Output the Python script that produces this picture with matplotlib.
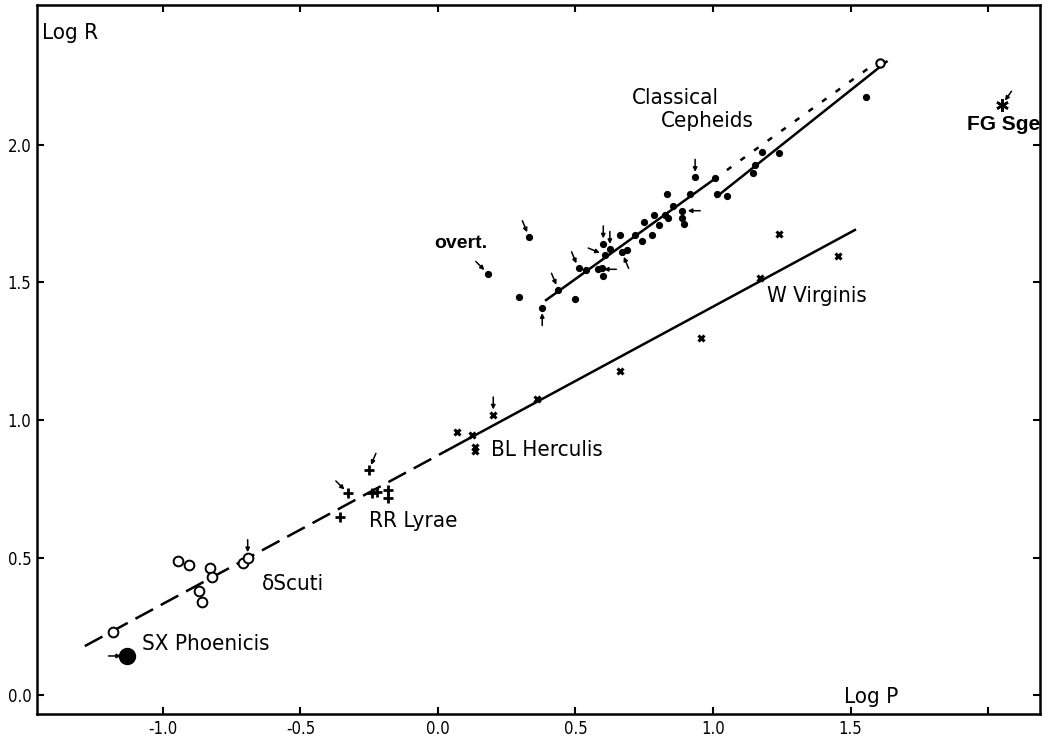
import numpy as np
import matplotlib
matplotlib.use('Agg')
from matplotlib import pyplot as plt
from matplotlib import font_manager

# data (log P, log R)
scuti_x = [-0.944, -0.904, -0.829, -0.823, -0.868, -0.859, -0.710, -0.692, -1.181]
scuti_y = [0.488, 0.473, 0.461, 0.430, 0.379, 0.339, 0.479, 0.499, 0.230]
sxphe_x = [-1.132]
sxphe_y = [0.142]
rrlyr_x = [-0.251, -0.326, -0.356, -0.241, -0.223, -0.181, -0.181]
rrlyr_y = [0.818, 0.733, 0.648, 0.733, 0.739, 0.745, 0.715]
typ2_x = [0.068, 0.123, 0.135, 0.135, 0.201, 0.361, 0.662, 0.957, 1.240, 1.456, 1.171]
typ2_y = [0.958, 0.945, 0.903, 0.888, 1.018, 1.075, 1.178, 1.297, 1.675, 1.597, 1.516]
ceph_x = [0.332, 0.183, 0.296, 0.379, 0.438, 0.499, 0.511, 0.540, 0.583, 0.599,
          0.595, 0.601, 0.625, 0.607, 0.662, 0.668, 0.688, 0.716, 0.743, 0.749,
          0.779, 0.787, 0.805, 0.825, 0.837, 0.856, 0.888, 0.886, 0.896, 0.935,
          1.007, 0.916, 0.834, 1.013, 1.050, 1.147, 1.153, 1.177, 1.240, 1.556]
ceph_y = [1.664, 1.531, 1.446, 1.409, 1.473, 1.441, 1.551, 1.545, 1.548, 1.524,
          1.551, 1.640, 1.620, 1.600, 1.673, 1.612, 1.618, 1.673, 1.652, 1.721,
          1.673, 1.745, 1.709, 1.745, 1.733, 1.778, 1.761, 1.733, 1.711, 1.882,
          1.881, 1.820, 1.822, 1.820, 1.815, 1.899, 1.927, 1.976, 1.972, 2.176]
ceph_open_x = [1.607]
ceph_open_y = [2.297]
fgsge_x = [2.050]
fgsge_y = [2.145]

# fitted relations
pop2_dash_x = [-1.284, 0.032]
pop2_dash_y = [0.178, 0.889]
pop2_solid_x = [0.032, 1.516]
pop2_solid_y = [0.889, 1.691]
ceph1_x = [0.393, 1.001]
ceph1_y = [1.436, 1.873]
ceph1_dot_x = [1.001, 1.60]
ceph1_dot_y = [1.873, 2.304]
ceph2_x = [1.013, 1.631]
ceph2_y = [1.812, 2.303]

# stars marked with small arrows
arrow_x = [-1.132, -0.692, -0.251, -0.326, 0.201, 0.183, 0.332, 0.379, 0.438,
           0.511, 0.583, 0.601, 0.625, 0.607, 0.668, 0.888, 0.935, 2.050]
arrow_y = [0.142, 0.499, 0.818, 0.733, 1.018, 1.531, 1.664, 1.409, 1.473,
           1.551, 1.548, 1.640, 1.620, 1.600, 1.612, 1.761, 1.882, 2.145]
arrow_from = ['W', 'N', 'NNE', 'NW', 'N', 'NW', 'NNW', 'S', 'NNW',
              'NNW', 'E', 'N', 'N', 'WNW', 'SSE', 'E', 'N', 'NE']

xticks = [-1.0, -0.5, 0.0, 0.5, 1.0, 1.5, 2.0]
xticklabels = ['-1.0', '-0.5', '0.0', '0.5', '1.0', '1.5', '']
yticks = [0.0, 0.5, 1.0, 1.5, 2.0]
yticklabels = ['0.0', '0.5', '1.0', '1.5', '2.0']

names = [f.name for f in font_manager.fontManager.ttflist]
narrow = 'Liberation Sans Narrow' if 'Liberation Sans Narrow' in names else 'DejaVu Sans'
plt.rcParams['font.family'] = [narrow, 'DejaVu Sans']
plt.rcParams['font.stretch'] = 'condensed'

fig = plt.figure(figsize=(10.54, 7.36), dpi=100)
ax = fig.add_axes([37 / 1054, 1 - 714 / 736, (1040 - 37) / 1054, (714 - 5) / 736])
ax.set_xlim(-1.458, 2.189)
ax.set_ylim(-0.069, 2.509)

k = 'black'
ax.plot(pop2_dash_x, pop2_dash_y, color=k, lw=1.8, dashes=(8, 3.5))
ax.plot(pop2_solid_x, pop2_solid_y, color=k, lw=1.8)
ax.plot(ceph1_x, ceph1_y, color=k, lw=1.8)
ax.plot(ceph1_dot_x, ceph1_dot_y, color=k, lw=1.8, dashes=(2.2, 4.5))
ax.plot(ceph2_x, ceph2_y, color=k, lw=1.8)

ax.plot(scuti_x, scuti_y, 'o', ms=7, mfc='white', mec=k, mew=1.4, ls='none')
ax.plot(sxphe_x, sxphe_y, 'o', ms=11.5, color=k, ls='none')
ax.plot(rrlyr_x, rrlyr_y, '+', ms=7, mew=2, color=k, ls='none')
ax.plot(typ2_x, typ2_y, 'x', ms=5, mew=2.2, color=k, ls='none')
ax.plot(ceph_x, ceph_y, 'o', ms=4.2, color=k, ls='none')
ax.plot(ceph_open_x, ceph_open_y, 'o', ms=6, mfc='white', mec=k, mew=1.5, ls='none')
ax.plot(fgsge_x, fgsge_y, marker=(6, 2, 0), ms=9, mew=1.8, color=k, ls='none')

offs = {'N': (0, 13), 'S': (0, -13), 'E': (13, 0), 'W': (-13, 0),
        'NW': (-9, 9), 'NNW': (-5, 12), 'NNE': (5, 12), 'NE': (7, 10),
        'WNW': (-12, 5), 'SSE': (5, -12)}
for x, y, d in zip(arrow_x, arrow_y, arrow_from):
    ax.annotate('', xy=(x, y), xytext=offs[d], textcoords='offset points',
                arrowprops=dict(arrowstyle='-|>', color=k, lw=1.1,
                                mutation_scale=6, shrinkA=0, shrinkB=4))

lab = dict(fontsize=16, color=k, fontstretch='condensed')
ax.text(-1.440, 2.407, 'Log R', ha='left', va='center', **lab)
ax.text(1.476, -0.029, 'Log P', ha='left', va='baseline', **lab)
ax.text(0.705, 2.149, 'Classical', ha='left', va='baseline', **lab)
ax.text(0.811, 2.065, 'Cepheids', ha='left', va='baseline', **lab)
ax.text(1.196, 1.429, 'W Virginis', ha='left', va='baseline', **lab)
ax.text(0.193, 0.869, 'BL Herculis', ha='left', va='baseline', **lab)
ax.text(-0.251, 0.612, 'RR Lyrae', ha='left', va='baseline', **lab)
ax.text(-0.64, 0.382, 'δScuti', ha='left', va='baseline', **lab)
ax.text(-1.076, 0.164, 'SX Phoenicis', ha='left', va='baseline', **lab)
ax.text(-0.015, 1.625, 'overt.', ha='left', va='baseline', fontsize=14,
        fontweight='bold', fontstretch='normal', family=['Liberation Sans', 'DejaVu Sans'])
ax.text(1.924, 2.055, 'FG Sge', ha='left', va='baseline', fontsize=15,
        fontweight='bold', fontstretch='normal', family=['Liberation Sans', 'DejaVu Sans'])

ax.set_xticks(xticks)
ax.set_xticklabels(xticklabels, fontstretch='condensed')
ax.set_yticks(yticks)
ax.set_yticklabels(yticklabels, fontstretch='condensed')
ax.tick_params(direction='in', length=5, width=1.5, labelsize=12,
               top=True, right=True, pad=4)
for s in ax.spines.values():
    s.set_linewidth(1.8)

fig.savefig('out.png', dpi=100)
